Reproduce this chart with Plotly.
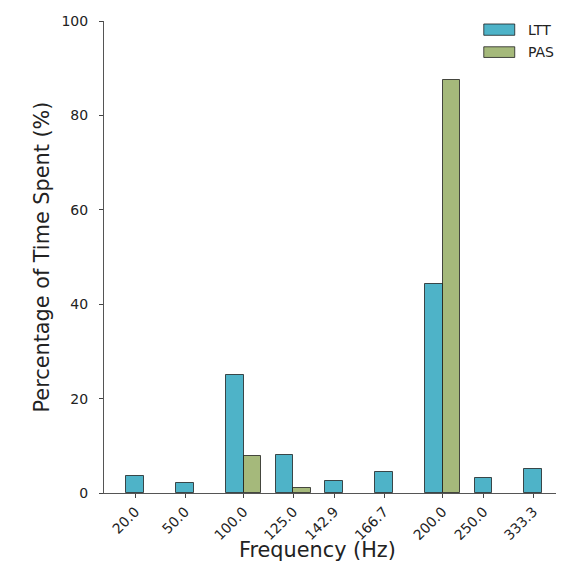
import plotly.graph_objects as go

categories = ["20.0", "50.0", "100.0", "125.0", "142.9", "166.7", "200.0", "250.0", "333.3"]
ltt_values = [3.5, 2.2, 25.0, 8.0, 2.5, 4.4, 44.2, 3.1, 5.1]
pas_values = [0.0, 0.0, 7.8, 1.1, 0.0, 0.0, 87.4, 0.0, 0.0]
series_names = ["LTT", "PAS"]
y_ticks = [0, 20, 40, 60, 80, 100]

LTT_COLOR = "#4eb3c8"
PAS_COLOR = "#a5b97b"
EDGE = "rgba(20,20,20,0.75)"
FONT = "DejaVu Sans"
W = 0.355

idx = list(range(len(categories)))
ltt_x = [i for i in idx]
pas_x = [i + W for i in idx]
tick_pos = [i + (W / 2 if p > 0 else 0) for i, p in zip(idx, pas_values)]

fig = go.Figure()
fig.add_trace(go.Bar(x=ltt_x, y=ltt_values, width=W, name=series_names[0],
                     marker=dict(color=LTT_COLOR, line=dict(color=EDGE, width=1)),
                     showlegend=False))
pas_x_f = [x for x, v in zip(pas_x, pas_values) if v > 0]
pas_v_f = [v for v in pas_values if v > 0]
fig.add_trace(go.Bar(x=pas_x_f, y=pas_v_f, width=W, name=series_names[1],
                     marker=dict(color=PAS_COLOR, line=dict(color=EDGE, width=1)),
                     showlegend=False))

# page body has an 8px margin; visible figure area is [8, 556] x [8, 565]
OFF = 8
Wpx, Hpx = 564 - 2 * OFF, 573 - 2 * OFF
L, R, T = 103.5 - OFF, 0, 21 - OFF
B = (573 - OFF) - 493.5   # plot bottom at reference y=493.5
pw = Wpx - L - R
ph = Hpx - T - B
UNIT = 49.8                # px per category step
X0 = 134.85                # reference x of first category
x_left = (103.5 - X0) / UNIT
x_right = x_left + pw / UNIT

def px(xp):
    # xp given in reference-window pixels
    return (xp - OFF - L) / pw

def py(yp):
    return (T + ph - (yp - OFF)) / ph

shapes = []
annotations = []
LEG_SHIFT = -7
legend_rows = [(series_names[0], LTT_COLOR, 24, 35.3), (series_names[1], PAS_COLOR, 46.8, 57.5)]
for name, col, y0, y1 in legend_rows:
    shapes.append(dict(type="rect", xref="paper", yref="paper",
                       x0=px(490.7 + LEG_SHIFT), x1=px(521.7 + LEG_SHIFT), y0=py(y1), y1=py(y0),
                       fillcolor=col, line=dict(color=EDGE, width=1)))
    annotations.append(dict(text=name, xref="paper", yref="paper",
                            x=px(533 + LEG_SHIFT), y=py((y0 + y1) / 2), xanchor="left", yanchor="middle",
                            showarrow=False, font=dict(family=FONT, size=14, color="#222")))

annotations.append(dict(text="Frequency (Hz)", xref="paper", yref="paper",
                        x=px(317), y=py(551), xanchor="center", yanchor="middle",
                        showarrow=False, font=dict(family=FONT, size=20.8, color="#222")))

fig.update_layout(
    width=Wpx, height=Hpx,
    margin=dict(l=L, r=R, t=T, b=B, pad=0),
    plot_bgcolor="white", paper_bgcolor="white",
    barmode="overlay", bargap=0,
    font=dict(family=FONT, size=14, color="#222"),
    shapes=shapes, annotations=annotations,
    xaxis=dict(range=[x_left, x_right], tickvals=tick_pos, ticktext=categories,
               tickangle=-45, ticks="outside", ticklen=4, tickcolor="#444",
               showline=True, linecolor="#555", linewidth=1, showgrid=False,
               zeroline=False, tickfont=dict(family=FONT, size=14, color="#222")),
    yaxis=dict(range=[0, 100], tickvals=y_ticks, ticks="outside", ticklen=4,
               tickcolor="#444", showline=True, linecolor="#555", linewidth=1,
               showgrid=False, zeroline=False, ticklabelstandoff=8,
               tickfont=dict(family=FONT, size=14, color="#222"),
               title=dict(text="Percentage of Time Spent (%)",
                          font=dict(family=FONT, size=20.8, color="#222"), standoff=6)),
)

fig.write_html("out.html")
